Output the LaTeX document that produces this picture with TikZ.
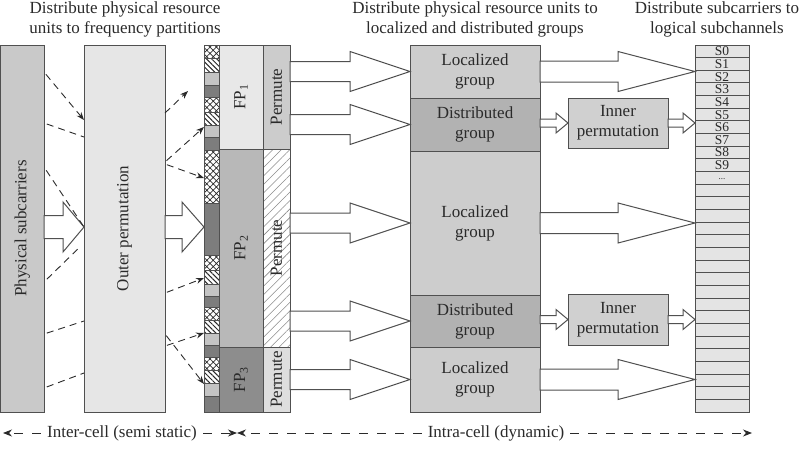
\documentclass[tikz,border=0pt]{standalone}
\usepackage{fontspec}
\setmainfont{Liberation Serif}
\usetikzlibrary{calc,arrows.meta,patterns.meta}
\definecolor{bd}{HTML}{505050}
\definecolor{txt}{HTML}{2A2A2A}
\definecolor{cps}{HTML}{C9C9C9}
\definecolor{cop}{HTML}{E6E6E6}
\definecolor{cfpa}{HTML}{E8E8E8}
\definecolor{cfpb}{HTML}{B8B8B8}
\definecolor{cfpc}{HTML}{8D8D8D}
\definecolor{cpma}{HTML}{CCCCCC}
\definecolor{cpmc}{HTML}{DEDEDE}
\definecolor{cloc}{HTML}{CDCDCD}
\definecolor{cdis}{HTML}{B2B2B2}
\definecolor{cinn}{HTML}{D0D0D0}
\definecolor{csub}{HTML}{E4E4E4}
\definecolor{slight}{HTML}{C4C4C4}
\definecolor{sdark}{HTML}{7D7D7D}
\newcommand\bx[6]{\node[box,#1,minimum width=#4pt,minimum height=#5pt] (#6) at (#2,#3) {};}
\newcommand\blockarrow[5]{%
  \draw[barrow] ($(#1)+(0,-#4)$) -- ($(#2)+(-#3,-#4)$) -- ($(#2)+(-#3,-#5)$) -- (#2)
    -- ($(#2)+(-#3,#5)$) -- ($(#2)+(-#3,#4)$) -- ($(#1)+(0,#4)$) -- cycle;}
\begin{document}
\begin{tikzpicture}[x=1pt,y=-1pt,
  font=\fontsize{17}{20}\selectfont,
  box/.style={draw=bd, line width=1pt, inner sep=0pt, outer sep=0pt, anchor=north west},
  lbl/.style={text=txt, inner sep=0pt},
  barrow/.style={draw=bd, fill=white, line width=1pt, line join=miter},
  dsh/.style={draw=txt, line width=0.9pt, dash pattern=on 7pt off 5pt},
  dsharr/.style={dsh, -{Stealth[length=8pt,width=6pt]}},
  tdsh/.style={draw=txt, line width=0.8pt, dash pattern=on 9pt off 9pt, -{Stealth[length=9pt,width=7pt]}},
  segX/.style={preaction={fill=white}, pattern={Hatch[angle=45,distance=4.5pt,line width=0.7pt]}, pattern color=txt, draw=bd, line width=0.8pt},
  segH/.style={preaction={fill=white}, pattern={Lines[angle=-45,distance=3.6pt,line width=1pt]}, pattern color=txt, draw=bd, line width=0.8pt},
  segL/.style={fill=slight, draw=bd, line width=0.8pt},
  segD/.style={fill=sdark, draw=bd, line width=0.8pt},
]
\useasboundingbox (0,0) rectangle (807,448);

% titles
\node[lbl, align=center] (t1) at (125,19) {Distribute physical resource\\units to frequency partitions};
\node[lbl, align=center] (t2) at (475,19) {Distribute physical resource units to\\localized and distributed groups};
\node[lbl, align=center] (t3) at (717,19) {Distribute subcarriers to\\logical subchannels};

% left boxes
\bx{fill=cps}{0.6}{45}{43.4}{367}{ps}
\bx{fill=cop}{84}{45}{81}{367}{op}
\node[lbl, rotate=90] at (ps.center) {Physical subcarriers};
\node[lbl, rotate=90] at (op.center) {Outer permutation};

% strip of resource units
\foreach \a/\b/\s in {45/58/segX,58/72/segH,72/85/segL,85/97/segD,
  97/112/segX,112/125/segH,125/137/segL,137/150/segD,
  150/203/segX,203/255/segD,
  255/270/segX,270/284/segH,284/296/segL,296/307/segD,
  307/320/segX,320/333/segH,333/345/segL,345/357/segD,
  357/370/segX,370/383/segH,383/396/segL,396/412/segD}
  \path[\s] (204,\a) rectangle (219,\b);
\bx{}{204}{45}{15}{367}{strip}

% frequency partitions
\bx{fill=cfpa}{219}{45}{44}{104}{fp1}
\bx{fill=cpma}{263}{45}{27}{104}{pm1}
\bx{fill=cfpb}{219}{149}{44}{198}{fp2}
\bx{preaction={fill=white}, pattern={Lines[angle=45,distance=6pt,line width=0.6pt]}, pattern color=black!45}{263}{149}{27}{198}{pm2}
\bx{fill=cfpc}{219}{347}{44}{65}{fp3}
\bx{fill=cpmc}{263}{347}{27}{65}{pm3}
\node[lbl, rotate=90] at (fp1.center) {FP\textsubscript{1}};
\node[lbl, rotate=90] at (fp2.center) {FP\textsubscript{2}};
\node[lbl, rotate=90] at (fp3.center) {FP\textsubscript{3}};
\node[lbl, rotate=90] at (pm1.center) {Permute};
\node[lbl, rotate=90] at (pm2.center) {Permute};
\node[lbl, rotate=90] at (pm3.center) {Permute};

% groups
\bx{fill=cloc}{410}{45}{130}{53}{loc1}
\bx{fill=cdis}{410}{98}{130}{53}{dis1}
\bx{fill=cloc}{410}{151}{130}{144}{loc2}
\bx{fill=cdis}{410}{295}{130}{52}{dis2}
\bx{fill=cloc}{410}{347}{130}{65}{loc3}
\node[lbl, align=center] at (loc1.center) {Localized\\group};
\node[lbl, align=center] at (dis1.center) {Distributed\\group};
\node[lbl, align=center] at (loc2.center) {Localized\\group};
\node[lbl, align=center] at (dis2.center) {Distributed\\group};
\node[lbl, align=center] at (loc3.center) {Localized\\group};

% inner permutations
\bx{fill=cinn}{568}{98}{100}{50}{inner1}
\bx{fill=cinn}{568}{294}{100}{51}{inner2}
\node[lbl, align=center] at (inner1.center) {Inner\\permutation};
\node[lbl, align=center] at (inner2.center) {Inner\\permutation};

% subchannels
\foreach \i in {0,...,28}{
  \pgfmathsetmacro\yy{45+\i*12.655}
  \bx{fill=csub}{695}{\yy}{54}{12.655}{sc\i}
}
\foreach \i in {0,...,9}
  \node[lbl, font=\fontsize{13.5}{14}\selectfont] at (sc\i.center) {S\i};
\node[lbl, font=\fontsize{9}{10}\selectfont] at ($(sc10.center)+(0,1)$) {...};
\bx{}{695}{45}{54}{367}{sub}

% block arrows, left part
\coordinate (a1s) at (ps.east |- 0,227);
\coordinate (a1t) at (op.west |- 0,227);
\coordinate (a2s) at (op.east |- 0,227);
\coordinate (a2t) at (strip.west |- 0,227);
\blockarrow{a1s}{a1t}{21}{11.5}{25}
\blockarrow{a2s}{a2t}{22}{11.5}{25}

% block arrows to groups
\coordinate (r1s) at (pm1.east |- loc1.west);
\coordinate (r2s) at (pm1.east |- dis1.west);
\coordinate (r3s) at (pm2.east |- loc2.west);
\coordinate (r4s) at (pm2.east |- dis2.west);
\coordinate (r5s) at (pm3.east |- loc3.west);
\blockarrow{r1s}{loc1.west}{60}{10}{20}
\blockarrow{r2s}{dis1.west}{60}{10}{20}
\blockarrow{r3s}{loc2.west}{60}{10}{20}
\blockarrow{r4s}{dis2.west}{60}{10}{20}
\blockarrow{r5s}{loc3.west}{60}{10}{20}

% block arrows to subchannels
\coordinate (q1t) at (sub.west |- loc1.east);
\coordinate (q3t) at (sub.west |- loc2.east);
\coordinate (q5t) at (sub.west |- loc3.east);
\blockarrow{loc1.east}{q1t}{77}{10.5}{20}
\blockarrow{loc2.east}{q3t}{77}{10.5}{20}
\blockarrow{loc3.east}{q5t}{77}{10.5}{20}

% small arrows via inner permutations
\coordinate (i1s) at (dis1.east |- inner1.west);
\coordinate (i1t) at (sub.west |- inner1.east);
\coordinate (i2s) at (dis2.east |- inner2.west);
\coordinate (i2t) at (sub.west |- inner2.east);
\blockarrow{i1s}{inner1.west}{12}{4}{10}
\blockarrow{inner1.east}{i1t}{12}{4}{10}
\blockarrow{i2s}{inner2.west}{12}{4}{10}
\blockarrow{inner2.east}{i2t}{12}{4}{10}

% dashed connectors: physical subcarriers -> outer permutation
\draw[dsharr, shorten <=3pt] (ps.east |- 0,72) -- (op.west |- 0,120);
\draw[dsh, shorten <=3pt] (ps.east |- 0,123) -- (op.west |- 0,137);
\draw[dsh, shorten <=4pt] (ps.east |- 0,167) -- (a1t);
\draw[dsh, shorten <=4pt, shorten >=4pt] (ps.east |- 0,282) -- (op.west |- 0,243);
\draw[dsh, shorten <=3pt] (ps.east |- 0,334) -- (op.west |- 0,321);
\draw[dsh, shorten <=3pt] (ps.east |- 0,388) -- (op.west |- 0,373);

% dashed connectors: outer permutation -> strip
\coordinate (fa) at (188,91);
\draw[dsharr] (op.east |- 0,113) -- (fa);
\draw[dsharr, shorten <=2pt] (op.east |- 0,162) -- (strip.west |- 0,127);
\draw[dsharr, shorten <=2pt] (op.east |- 0,164) -- (strip.west |- 0,178);
\draw[dsharr, shorten <=2pt] (op.east |- 0,293) -- (strip.west |- 0,278);
\draw[dsharr, shorten <=2pt] (op.east |- 0,346) -- (strip.west |- 0,333);
\draw[dsharr, shorten <=2pt] (op.east |- 0,334) -- (strip.west |- 0,384);

% bottom timeline
\node[lbl] (inter) at (122,433) {Inter-cell (semi static)};
\node[lbl] (intra) at (496,433) {Intra-cell (dynamic)};
\coordinate (tl) at (3,433);
\coordinate (tm) at (237,433);
\coordinate (tr) at (752,433);
\draw[tdsh, shorten <=6pt] (inter.west) -- (tl);
\draw[tdsh, shorten <=6pt] (inter.east) -- (tm);
\draw[tdsh, shorten <=6pt] (intra.west) -- (tm);
\draw[tdsh, shorten <=6pt] (intra.east) -- (tr);
\end{tikzpicture}
\end{document}
